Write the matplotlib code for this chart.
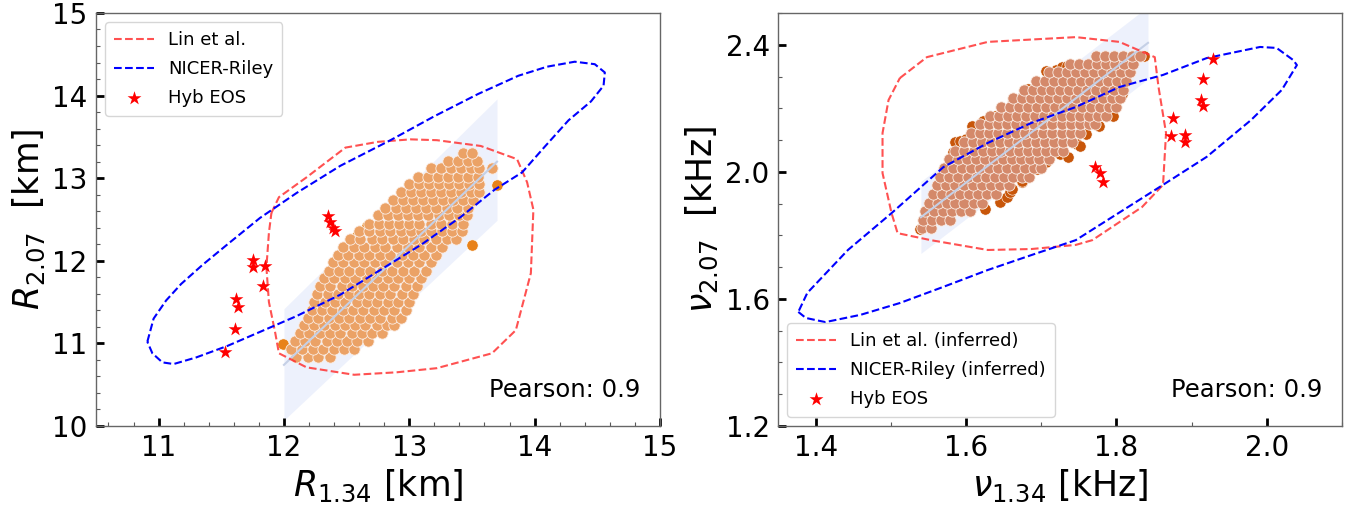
import matplotlib
matplotlib.use('Agg')
from matplotlib import pyplot as plt
from matplotlib.ticker import MultipleLocator

# ---------------- left panel: radii ----------------
# scatter cloud: (R_2.07, [R_1.34 values])
r_cloud = [
    (10.84, [12.10, 12.19, 12.27, 12.37]),
    (10.93, [12.06, 12.14, 12.23, 12.31, 12.40, 12.48, 12.56]),
    (11.03, [12.09, 12.17, 12.25, 12.34, 12.42, 12.50, 12.58, 12.67]),
    (11.12, [12.13, 12.20, 12.29, 12.37, 12.45, 12.54, 12.62, 12.70, 12.78]),
    (11.22, [12.16, 12.24, 12.32, 12.41, 12.49, 12.57, 12.65, 12.74, 12.82, 12.88]),
    (11.31, [12.19, 12.27, 12.36, 12.44, 12.52, 12.61, 12.69, 12.77, 12.86, 12.93]),
    (11.41, [12.22, 12.30, 12.38, 12.47, 12.55, 12.63, 12.72, 12.80, 12.88, 12.97]),
    (11.50, [12.24, 12.33, 12.41, 12.49, 12.58, 12.66, 12.74, 12.83, 12.91, 13.00]),
    (11.60, [12.26, 12.35, 12.43, 12.52, 12.60, 12.68, 12.77, 12.85, 12.94, 13.03]),
    (11.69, [12.29, 12.37, 12.46, 12.54, 12.63, 12.71, 12.79, 12.88, 12.97, 13.06]),
    (11.79, [12.32, 12.40, 12.49, 12.57, 12.66, 12.74, 12.83, 12.91, 13.00, 13.09]),
    (11.88, [12.36, 12.44, 12.52, 12.61, 12.69, 12.78, 12.86, 12.95, 13.04, 13.13]),
    (11.98, [12.39, 12.47, 12.56, 12.64, 12.73, 12.81, 12.90, 12.99, 13.08, 13.17]),
    (12.07, [12.43, 12.51, 12.60, 12.68, 12.77, 12.85, 12.94, 13.03, 13.12, 13.21]),
    (12.17, [12.47, 12.56, 12.64, 12.73, 12.81, 12.90, 12.99, 13.08, 13.17, 13.26]),
    (12.26, [12.53, 12.61, 12.70, 12.78, 12.87, 12.95, 13.04, 13.12, 13.21, 13.30, 13.37]),
    (12.36, [12.60, 12.68, 12.77, 12.85, 12.93, 13.01, 13.09, 13.17, 13.26, 13.34, 13.42]),
    (12.45, [12.68, 12.76, 12.84, 12.92, 13.00, 13.08, 13.17, 13.25, 13.34, 13.43]),
    (12.55, [12.75, 12.83, 12.91, 12.99, 13.07, 13.15, 13.24, 13.32, 13.40, 13.46]),
    (12.64, [12.81, 12.89, 12.97, 13.05, 13.13, 13.21, 13.30, 13.38, 13.47]),
    (12.74, [12.87, 12.95, 13.03, 13.11, 13.19, 13.27, 13.35, 13.43, 13.51]),
    (12.83, [12.93, 13.01, 13.09, 13.17, 13.25, 13.33, 13.41, 13.49, 13.56]),
    (12.93, [13.00, 13.08, 13.16, 13.24, 13.32, 13.40, 13.48, 13.56]),
    (13.02, [13.07, 13.15, 13.23, 13.31, 13.39, 13.47, 13.55]),
    (13.12, [13.17, 13.25, 13.33, 13.41, 13.49, 13.56, 13.66]),
    (13.21, [13.31, 13.39, 13.47, 13.54]),
    (13.30, [13.43, 13.50]),
]
r134_dark = [11.99, 12.48, 12.58, 12.66, 13.50, 13.70]
r207_dark = [10.99, 12.16, 12.30, 12.42, 12.19, 12.92]

r134_hyb = [11.53, 11.61, 11.62, 11.63, 11.75, 11.75, 11.85, 11.83, 12.35, 12.37, 12.39, 12.41]
r207_hyb = [10.90, 11.17, 11.54, 11.44, 12.01, 11.92, 11.94, 11.69, 12.54, 12.47, 12.40, 12.36]

r_fit_x = [12.0, 13.7]
r_fit_y = [10.74, 13.20]
r_band_lo = [10.07, 12.49]
r_band_hi = [11.42, 13.96]

r_lin_x = [11.90, 11.96, 12.18, 12.49, 12.75, 13.01, 13.22, 13.57, 13.86, 13.94, 13.99, 13.97,
           13.85, 13.66, 13.22, 12.90, 12.56, 12.18, 11.96, 11.93, 11.88, 11.86, 11.88, 11.90]
r_lin_y = [12.58, 12.77, 13.01, 13.37, 13.44, 13.47, 13.46, 13.39, 13.23, 12.95, 12.62, 11.85,
           11.16, 10.88, 10.70, 10.65, 10.62, 10.71, 10.88, 11.13, 11.50, 11.92, 12.34, 12.58]

r_nicer_x = [10.91, 10.96, 11.06, 11.18, 11.35, 11.55, 11.81, 12.10, 12.45, 12.85, 13.20, 13.55,
             13.87, 14.10, 14.32, 14.48, 14.56, 14.55, 14.45, 14.27, 14.08, 13.90, 13.68, 13.41,
             13.10, 12.77, 12.45, 12.10, 11.81, 11.55, 11.30, 11.12, 11.03, 10.95, 10.91]
r_nicer_y = [11.02, 11.30, 11.52, 11.72, 11.95, 12.20, 12.52, 12.82, 13.15, 13.46, 13.75, 14.02,
             14.24, 14.35, 14.41, 14.38, 14.28, 14.12, 13.93, 13.70, 13.38, 13.07, 12.86, 12.53,
             12.20, 11.89, 11.59, 11.33, 11.14, 10.97, 10.83, 10.75, 10.77, 10.88, 11.02]

# ---------------- right panel: frequencies ----------------
nu_cloud = [
    (1.822, [1.541, 1.553]),
    (1.848, [1.543, 1.555, 1.567, 1.579]),
    (1.876, [1.546, 1.558, 1.570, 1.582, 1.594, 1.605]),
    (1.903, [1.551, 1.563, 1.575, 1.586, 1.598, 1.610, 1.621]),
    (1.930, [1.556, 1.568, 1.580, 1.592, 1.604, 1.616, 1.628, 1.640]),
    (1.958, [1.561, 1.573, 1.585, 1.597, 1.609, 1.621, 1.633, 1.645, 1.657]),
    (1.985, [1.566, 1.578, 1.590, 1.602, 1.614, 1.626, 1.638, 1.650, 1.662, 1.674, 1.684]),
    (2.012, [1.571, 1.583, 1.595, 1.607, 1.619, 1.631, 1.643, 1.655, 1.667, 1.679, 1.691, 1.700]),
    (2.040, [1.577, 1.589, 1.601, 1.613, 1.625, 1.637, 1.649, 1.661, 1.673, 1.685, 1.697, 1.710]),
    (2.067, [1.586, 1.598, 1.610, 1.622, 1.634, 1.646, 1.658, 1.670, 1.682, 1.694, 1.706, 1.718, 1.729]),
    (2.094, [1.597, 1.609, 1.621, 1.633, 1.645, 1.657, 1.669, 1.681, 1.693, 1.705, 1.717, 1.729, 1.741]),
    (2.122, [1.607, 1.619, 1.631, 1.643, 1.655, 1.667, 1.679, 1.691, 1.703, 1.715, 1.727, 1.739, 1.751]),
    (2.149, [1.619, 1.631, 1.643, 1.655, 1.667, 1.679, 1.691, 1.703, 1.715, 1.727, 1.739, 1.751, 1.763, 1.772]),
    (2.176, [1.632, 1.644, 1.656, 1.668, 1.680, 1.692, 1.704, 1.716, 1.728, 1.740, 1.752, 1.764, 1.776, 1.786]),
    (2.204, [1.646, 1.658, 1.670, 1.682, 1.694, 1.706, 1.718, 1.730, 1.742, 1.754, 1.766, 1.778, 1.790, 1.799]),
    (2.231, [1.662, 1.674, 1.686, 1.698, 1.710, 1.722, 1.734, 1.746, 1.758, 1.770, 1.782, 1.794, 1.805]),
    (2.258, [1.677, 1.689, 1.701, 1.713, 1.725, 1.737, 1.749, 1.761, 1.773, 1.785, 1.797, 1.809]),
    (2.286, [1.693, 1.705, 1.717, 1.729, 1.741, 1.753, 1.765, 1.777, 1.789, 1.801, 1.813]),
    (2.313, [1.710, 1.722, 1.734, 1.746, 1.758, 1.770, 1.782, 1.794, 1.806, 1.818]),
    (2.340, [1.738, 1.750, 1.762, 1.774, 1.786, 1.798, 1.810, 1.822]),
    (2.366, [1.773, 1.785, 1.797, 1.809, 1.821, 1.831]),
]
nu134_dark = [1.539, 1.545, 1.583, 1.585, 1.592, 1.600, 1.608, 1.623, 1.638, 1.645, 1.662, 1.675,
              1.682, 1.698, 1.707, 1.714, 1.720, 1.728, 1.734, 1.837, 1.625, 1.645, 1.654, 1.658,
              1.661, 1.674, 1.675, 1.694, 1.707, 1.725, 1.735, 1.748, 1.751, 1.760, 1.777, 1.795, 1.808]
nu207_dark = [1.821, 1.835, 2.063, 2.094, 2.097, 2.104, 2.144, 2.160, 2.176, 2.170, 2.223, 2.235,
              2.260, 2.276, 2.317, 2.307, 2.320, 2.330, 2.333, 2.364, 1.884, 1.906, 1.922, 1.937,
              1.947, 1.969, 1.972, 2.009, 2.031, 2.056, 2.047, 2.088, 2.082, 2.119, 2.144, 2.176, 2.245]

nu134_hyb = [1.929, 1.915, 1.912, 1.915, 1.875, 1.872, 1.891, 1.891, 1.771, 1.778, 1.782]
nu207_hyb = [2.355, 2.292, 2.226, 2.207, 2.169, 2.113, 2.116, 2.094, 2.015, 1.996, 1.968]

nu_fit_x = [1.54, 1.842]
nu_fit_y = [1.857, 2.406]
nu_band_lo = [1.743, 2.292]
nu_band_hi = [1.970, 2.520]

nu_lin_x = [1.512, 1.548, 1.629, 1.746, 1.804, 1.851, 1.856, 1.866, 1.862, 1.834, 1.768, 1.746,
            1.687, 1.629, 1.553, 1.509, 1.501, 1.489, 1.489, 1.497, 1.512]
nu_lin_y = [2.295, 2.361, 2.409, 2.424, 2.409, 2.361, 2.267, 2.122, 1.959, 1.889, 1.785, 1.770,
            1.757, 1.754, 1.785, 1.807, 1.870, 1.996, 2.122, 2.226, 2.295]

nu_nicer_x = [1.377, 1.387, 1.413, 1.460, 1.512, 1.570, 1.629, 1.687, 1.746, 1.862, 1.920, 1.979,
              2.020, 2.040, 2.035, 2.013, 1.991, 1.920, 1.862, 1.804, 1.746, 1.687, 1.629, 1.570,
              1.501, 1.443, 1.389, 1.377]
nu_nicer_y = [1.559, 1.540, 1.527, 1.550, 1.587, 1.638, 1.691, 1.738, 1.785, 1.959, 2.047, 2.163,
              2.258, 2.336, 2.352, 2.390, 2.393, 2.358, 2.305, 2.267, 2.204, 2.154, 2.091, 2.015,
              1.870, 1.754, 1.619, 1.559]


def unpack(rows):
    xs, ys = [], []
    for y, xrow in rows:
        xs += xrow
        ys += [y] * len(xrow)
    return xs, ys


def draw_panel(ax, cloud, xdark, ydark, main_c, dark_c, fx, fy, blo, bhi,
               linx, liny, nicx, nicy, hx, hy, labels, loc):
    cx, cy = unpack(cloud)
    ax.fill_between(fx, blo, bhi, color='royalblue', alpha=0.09, lw=0, zorder=1)
    ax.scatter(xdark, ydark, s=66, color=dark_c, edgecolor='white', lw=0.4, zorder=2)
    ax.scatter(cx, cy, s=66, color=main_c, edgecolor='#fbeee6', lw=0.6, zorder=3)
    ax.plot(fx, fy, color='#c5d0e6', lw=1.5, zorder=4)
    ax.plot(linx, liny, '--', color='#ff3333', lw=1.5, alpha=0.85, zorder=5, label=labels[0])
    ax.plot(nicx, nicy, '--', color='blue', lw=1.5, zorder=5, label=labels[1])
    ax.scatter(hx, hy, marker='*', s=110, color='red', lw=0, zorder=6, label=labels[2])
    ax.legend(loc=loc, fontsize=13, handlelength=2.2, borderpad=0.5, labelspacing=0.6)
    ax.text(0.965, 0.07, 'Pearson: 0.9', transform=ax.transAxes, ha='right',
            va='baseline', fontsize=17.5)

    ax.tick_params(which='major', direction='in', length=6, width=2, labelsize=20,
                   pad=6, color='black')
    ax.tick_params(which='minor', direction='in', length=3, width=0.8, color='0.35')
    for sp in ax.spines.values():
        sp.set_color('0.4')
        sp.set_linewidth(1.0)


fig = plt.figure(figsize=(13.63, 5.09), dpi=100)
ax1 = fig.add_axes([0.0704, 0.1631, 0.4138, 0.8114])
ax2 = fig.add_axes([0.5708, 0.1631, 0.4138, 0.8114])

draw_panel(ax1, r_cloud, r134_dark, r207_dark, '#eba266', '#e8821a',
           r_fit_x, r_fit_y, r_band_lo, r_band_hi, r_lin_x, r_lin_y,
           r_nicer_x, r_nicer_y, r134_hyb, r207_hyb,
           ['Lin et al.', 'NICER-Riley', 'Hyb EOS'], 'upper left')
ax1.set_xlim(10.5, 15)
ax1.set_ylim(10, 15)
ax1.xaxis.set_major_locator(MultipleLocator(1))
ax1.xaxis.set_minor_locator(MultipleLocator(0.2))
ax1.yaxis.set_major_locator(MultipleLocator(1))
ax1.yaxis.set_minor_locator(MultipleLocator(0.2))
ax1.set_xlabel(r'$R_{1.34}$ [km]', fontsize=25)
ax1.set_ylabel(r'$R_{2.07}$  [km]', fontsize=25)

draw_panel(ax2, nu_cloud, nu134_dark, nu207_dark, '#d4896a', '#c8560a',
           nu_fit_x, nu_fit_y, nu_band_lo, nu_band_hi, nu_lin_x, nu_lin_y,
           nu_nicer_x, nu_nicer_y, nu134_hyb, nu207_hyb,
           ['Lin et al. (inferred)', 'NICER-Riley (inferred)', 'Hyb EOS'], 'lower left')
ax2.set_xlim(1.35, 2.1)
ax2.set_ylim(1.2, 2.5)
ax2.xaxis.set_major_locator(MultipleLocator(0.2))
ax2.xaxis.set_minor_locator(MultipleLocator(0.1))
ax2.yaxis.set_major_locator(MultipleLocator(0.4))
ax2.yaxis.set_minor_locator(MultipleLocator(0.1))
ax2.set_xlabel(r'$\nu_{1.34}$ [kHz]', fontsize=25)
ax2.set_ylabel(r'$\nu_{2.07}$  [kHz]', fontsize=25)

fig.savefig('out.png', dpi=100)
